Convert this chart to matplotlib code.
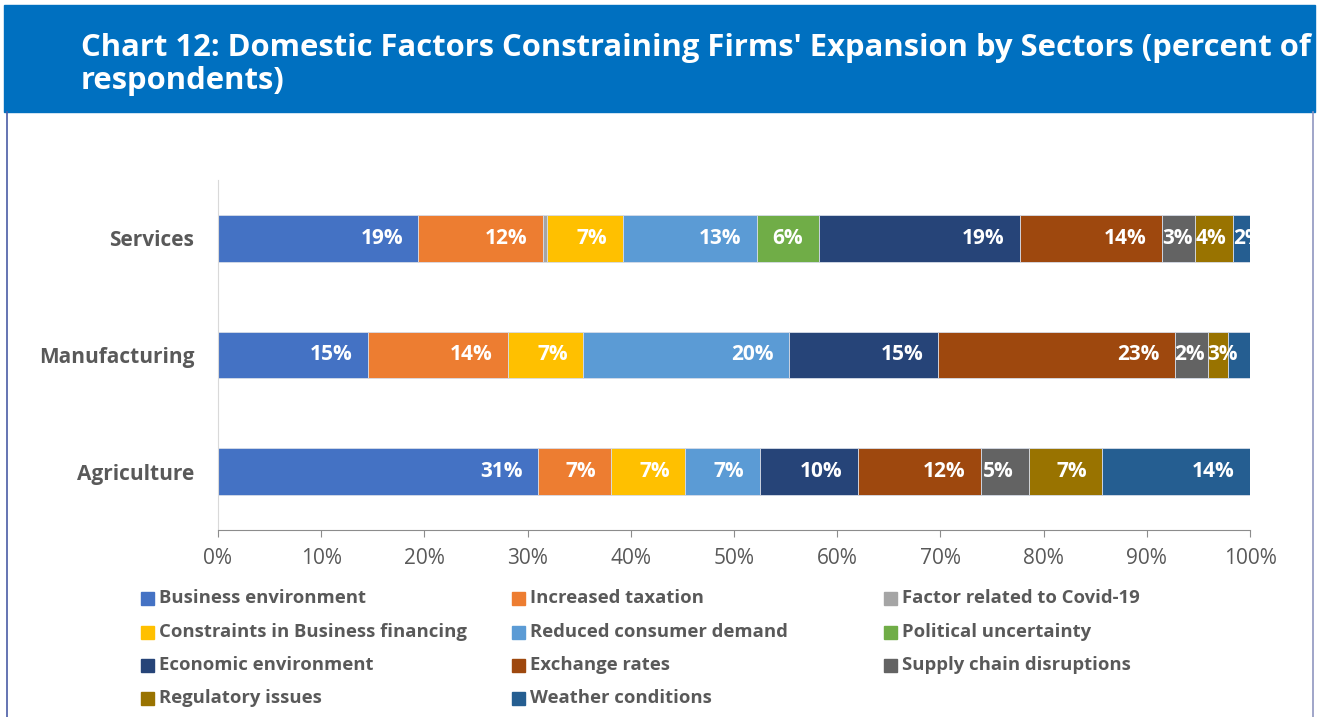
import matplotlib
matplotlib.use("Agg")
import matplotlib.pyplot as plt
from matplotlib import font_manager
from matplotlib.patches import Rectangle
from matplotlib.lines import Line2D
import numpy as np

# pick the first family that really has a bold face installed
family = 'DejaVu Sans'
for fam in ['Open Sans', 'Noto Sans', 'Lato', 'Roboto', 'Liberation Sans']:
    ws = [f.weight for f in font_manager.fontManager.ttflist if f.name == fam]
    if any((isinstance(w, int) and w >= 600) or w in ('bold', 'semibold', 'demibold', 'heavy', 'black') for w in ws):
        family = fam
        break
plt.rcParams['font.family'] = [family, 'DejaVu Sans']

# sectors from bottom to top
sectors = ['Agriculture', 'Manufacturing', 'Services']

# share of respondents (percent), order: Agriculture, Manufacturing, Services
business_env = [31.0, 14.5, 19.4]
taxation = [7.1, 13.6, 12.1]
covid = [0.0, 0.0, 0.4]
financing = [7.2, 7.3, 7.3]
demand = [7.2, 19.9, 13.0]
political = [0.0, 0.0, 6.0]
economic_env = [9.5, 14.5, 19.5]
exchange = [11.9, 22.9, 13.8]
supply_chain = [4.7, 3.2, 3.2]
regulatory = [7.1, 2.0, 3.7]
weather = [14.3, 2.1, 1.6]

# data labels as printed on the chart
business_env_lbl = ['31%', '15%', '19%']
taxation_lbl = ['7%', '14%', '12%']
covid_lbl = ['', '', '']
financing_lbl = ['7%', '7%', '7%']
demand_lbl = ['7%', '20%', '13%']
political_lbl = ['', '', '6%']
economic_env_lbl = ['10%', '15%', '19%']
exchange_lbl = ['12%', '23%', '14%']
supply_chain_lbl = ['5%', '2%', '3%']
regulatory_lbl = ['7%', '3%', '4%']
weather_lbl = ['14%', '', '2%']

names = ['Business environment', 'Increased taxation', 'Factor related to Covid-19',
         'Constraints in Business financing', 'Reduced consumer demand', 'Political uncertainty',
         'Economic environment', 'Exchange rates', 'Supply chain disruptions',
         'Regulatory issues', 'Weather conditions']
series = [business_env, taxation, covid, financing, demand, political,
          economic_env, exchange, supply_chain, regulatory, weather]
labels = [business_env_lbl, taxation_lbl, covid_lbl, financing_lbl, demand_lbl, political_lbl,
          economic_env_lbl, exchange_lbl, supply_chain_lbl, regulatory_lbl, weather_lbl]
colors = ['#4472C4', '#ED7D31', '#A5A5A5', '#FFC000', '#5B9BD5', '#70AD47',
          '#264478', '#9E480E', '#636363', '#997300', '#255E91']

W, H = 1319, 717
fig = plt.figure(figsize=(W / 100, H / 100), dpi=100)

# title banner
fig.patches.append(Rectangle((4 / W, 1 - 112 / H), 1311 / W, 107 / H,
                             transform=fig.transFigure, color='#0070C0', zorder=0))
fig.text(81 / W, 1 - 33 / H,
         "Chart 12: Domestic Factors Constraining Firms' Expansion by Sectors (percent of\nrespondents)",
         color='white', fontsize=22.3, fontweight='bold', va='top', ha='left', linespacing=1.15)
fig.lines.append(Line2D([7 / W, 7 / W], [0, 1 - 112 / H], transform=fig.transFigure,
                        color='#4a5ca6', lw=1.2))
fig.lines.append(Line2D([1313 / W, 1313 / W], [0, 1 - 112 / H], transform=fig.transFigure,
                        color='#9096c0', lw=1.2))

ax = fig.add_axes([218 / W, 1 - 530 / H, 1032 / W, 350 / H])
y = np.arange(len(sectors))
left = np.zeros(len(sectors))
texts = []
for vals, lbls, col in zip(series, labels, colors):
    vals = np.array(vals)
    ax.barh(y, vals, left=left, height=0.4, color=col, edgecolor='#d6dce8', linewidth=0.6)
    for i in range(len(sectors)):
        if lbls[i]:
            t = ax.annotate(lbls[i], xy=(left[i] + vals[i], y[i]), xytext=(-11, 0),
                            textcoords='offset points', ha='right', va='center',
                            color='white', fontsize=15, fontweight='bold', annotation_clip=False)
            t.set_clip_on(True)
            texts.append((t, left[i]))
    left = left + vals

ax.set_xlim(0, 100)
ax.set_ylim(-0.5, 2.5)
ax.set_yticks(y)
ax.set_yticklabels(sectors, fontsize=15, fontweight='bold', color='#595959')
ax.set_xticks(np.arange(0, 101, 10))
ax.set_xticklabels([f'{v}%' for v in range(0, 101, 10)], fontsize=15, color='#595959')
ax.tick_params(axis='y', length=0, pad=17)
ax.tick_params(axis='x', length=5, color='#8c8c8c', pad=8)
for s in ['top', 'right']:
    ax.spines[s].set_visible(False)
ax.spines['left'].set_color('#d9d9d9')
ax.spines['bottom'].set_color('#8c8c8c')

# labels that do not fit inside their segment start at the segment's left edge
fig.canvas.draw()
r = fig.canvas.get_renderer()
for t, start in texts:
    bb = t.get_window_extent(r)
    x0 = ax.transData.transform((start, 0))[0]
    if bb.x0 < x0:
        t.xy = (start, t.xy[1])
        t.set_position((0, 0))
        t.set_ha('left')

# legend, laid out row by row in three columns
col_x = [141, 512, 884]
row_y = [598, 632, 665, 698]
for k, (name, col) in enumerate(zip(names, colors)):
    r_, c_ = divmod(k, 3)
    fig.patches.append(Rectangle((col_x[c_] / W, 1 - (row_y[r_] + 6.5) / H), 13 / W, 13 / H,
                                 transform=fig.transFigure, color=col))
    fig.text((col_x[c_] + 18) / W, 1 - row_y[r_] / H, name, fontsize=13.3, fontweight='bold',
             color='#595959', va='center', ha='left')

fig.savefig('out.png', dpi=100, facecolor='white')
